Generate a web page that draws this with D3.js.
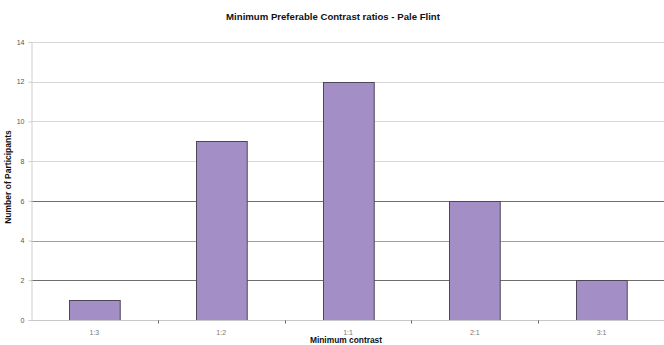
<!DOCTYPE html>
<html>
<head>
<meta charset="utf-8">
<script src="https://cdn.jsdelivr.net/npm/d3@7"></script>
<style>
  html, body { margin: 0; padding: 0; background: #fff; }
  svg { display: block; font-family: Arial, "Liberation Sans", sans-serif; }
</style>
</head>
<body>
<svg id="chart" width="664" height="345"></svg>
<script>
// Participants choosing each minimum contrast ratio
const categories = ["1:3", "1:2", "1:1", "2:1", "3:1"];
const participants = [1, 9, 12, 6, 2];
const yTicks = [0, 2, 4, 6, 8, 10, 12, 14];

const titleText = "Minimum Preferable Contrast ratios - Pale Flint";
const xTitle = "Minimum contrast";
const yTitle = "Number of Participants";

const svg = d3.select("#chart");
const W = 664, H = 345;
const m = { top: 42, right: -1, bottom: 25, left: 31 };

const x = d3.scaleBand()
  .domain(categories)
  .range([m.left, W - m.right])
  .paddingInner(0.6)
  .paddingOuter(0.3);

const y = d3.scaleLinear()
  .domain([0, 14])
  .range([H - m.bottom, m.top]);

// horizontal gridlines
const gridColor = v => (v === 6 || v === 2) ? "#6e6e6e" : (v === 4 ? "#a0a0a0" : "#d6d6d6");
svg.append("g")
  .selectAll("line")
  .data(yTicks.filter(v => v > 0))
  .join("line")
  .attr("x1", m.left)
  .attr("x2", W)
  .attr("y1", d => Math.round(y(d)) + 0.5)
  .attr("y2", d => Math.round(y(d)) + 0.5)
  .attr("stroke", gridColor)
  .attr("stroke-width", 1);

// bars
svg.append("g")
  .selectAll("rect")
  .data(categories.map((c, i) => ({ c, v: participants[i] })))
  .join("rect")
  .attr("x", d => Math.round(x(d.c)) + 0.5)
  .attr("y", d => Math.round(y(d.v)) + 0.5)
  .attr("width", x.bandwidth())
  .attr("height", d => Math.round(y(0)) - Math.round(y(d.v)))
  .attr("fill", "#a48ec6")
  .attr("stroke", "#4b4658")
  .attr("stroke-width", 1);

// y axis
const yAxis = d3.axisLeft(y).tickValues(yTicks).tickSize(3).tickPadding(4);
const gy = svg.append("g")
  .attr("transform", `translate(${m.left + 0.5},0)`)
  .call(yAxis);
gy.select(".domain").attr("stroke", "#cfcfcf");
gy.selectAll(".tick line").attr("stroke", "#cfcfcf");
gy.selectAll(".tick text")
  .attr("fill", "#555")
  .style("font-size", "7px");

// x axis with ticks between categories
const gx = svg.append("g")
  .attr("transform", `translate(0,${Math.round(y(0)) + 0.5})`);
gx.append("line")
  .attr("x1", m.left).attr("x2", W)
  .attr("stroke", "#c8c8c8");
const step = x.step();
const boundaries = categories.slice(1).map(c => x(c) - (step - x.bandwidth()) / 2);
gx.selectAll(".sep")
  .data(boundaries)
  .join("line")
  .attr("class", "sep")
  .attr("x1", d => Math.round(d) + 0.5)
  .attr("x2", d => Math.round(d) + 0.5)
  .attr("y1", 0).attr("y2", 3)
  .attr("stroke", "#666");
gx.selectAll(".lbl")
  .data(categories)
  .join("text")
  .attr("class", "lbl")
  .attr("x", d => x(d) + x.bandwidth() / 2)
  .attr("y", 14)
  .attr("text-anchor", "middle")
  .attr("fill", "#777")
  .style("font-size", "7px")
  .text(d => d);

// titles
svg.append("text")
  .attr("x", 333).attr("y", 20)
  .attr("text-anchor", "middle")
  .style("font-size", "9.6px").style("font-weight", "bold")
  .attr("fill", "#111")
  .text(titleText);

svg.append("text")
  .attr("x", 346).attr("y", 343)
  .attr("text-anchor", "middle")
  .style("font-size", "8.4px").style("font-weight", "bold")
  .attr("fill", "#111")
  .text(xTitle);

svg.append("text")
  .attr("transform", `translate(11,177) rotate(-90)`)
  .attr("text-anchor", "middle")
  .style("font-size", "8.5px").style("font-weight", "bold")
  .attr("fill", "#111")
  .text(yTitle);
</script>
</body>
</html>
